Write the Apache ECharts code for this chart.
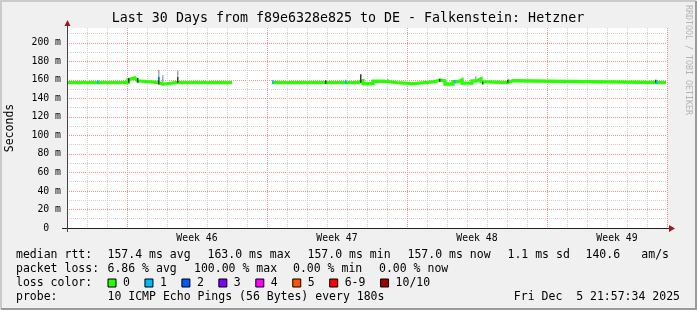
<!DOCTYPE html>
<html><head><meta charset="utf-8">
<script src="https://cdn.jsdelivr.net/npm/echarts@6/dist/echarts.min.js"></script>
<style>html,body{margin:0;padding:0;background:#f0f0f0}#c{width:697px;height:310px}</style>
</head><body><div id="c"></div>
<script>
// ---------- data ----------
const titleText = 'Last 30 Days from f89e6328e825 to DE - Falkenstein: Hetzner';
const yAxisName = 'Seconds';
const watermark = 'RRDTOOL / TOBI OETIKER';
const yMax = 216;                       // ms at top of plot
const weekLabels = ['Week 46', 'Week 47', 'Week 48', 'Week 49'];
const weekLabelDay = [6, 13, 20, 27];   // day slot whose centre carries the label
const weekStartDay = [3, 10, 17, 24];   // major (week) grid lines, in days from left edge

// median rtt (ms): each value holds from its day until the next day; last day = segment end
const seg1Days = [0, 3.05, 3.1, 3.4, 3.5, 3.55, 4.6, 4.8, 5.45, 5.55, 8.25];
const seg1Ms   = [157, 160, 162, 163, 159, 157, 155.5, 157, 158, 157, 157];
const seg2Days = [10.25, 14.55, 14.8, 15.3, 15.75, 16.05, 16.5, 17.3, 17.9, 18.4, 18.65,
  18.9, 19.3, 19.55, 19.75, 20.25, 20.5, 20.7, 20.8, 22.0, 22.3, 29.95];
const seg2Ms   = [157, 159, 156, 158.5, 158, 157, 156, 157, 158, 160, 159,
  155.5, 158, 160, 156.5, 159, 161, 158, 157, 159, 157, 157];

// samples with 1/10 packet loss (blue marks)
const lossDays = [1.5, 4.58, 10.25, 13.9, 19.35, 29.45];
const lossLo = [155.5, 159, 155.5, 155.5, 156, 155.5];
const lossHi = [159.5, 163, 159.5, 160, 160, 159.5];

// smoke (ping spread) - dark and light shades
const smokeDarkDays = [3.05, 3.5, 4.55, 5.5, 12.9, 14.65, 18.6, 20.75, 22.0, 29.4];
const smokeDarkLo = [157, 157, 155, 157, 155.5, 157, 158, 155, 157, 157];
const smokeDarkHi = [162, 162, 163, 163, 159.5, 166, 161, 158, 160, 160];
const smokeLightDays = [4.55, 4.75, 5.5, 14.75, 16.0, 20.4, 22.05];
const smokeLightLo = [163, 157, 163, 157, 157, 159, 158];
const smokeLightHi = [171, 165, 170, 161, 161, 164, 161];

// legend texts
const rttStats = ['157.4 ms avg', '163.0 ms max', '157.0 ms min', '157.0 ms now', '1.1 ms sd', '140.6', 'am/s'];
const lossStats = ['6.86 % avg', '100.00 % max', '0.00 % min', '0.00 % now'];
const lossNames = ['0', '1', '2', '3', '4', '5', '6-9', '10/10'];
const lossColors = ['#26ff00', '#00b8ff', '#0059ff', '#7e00ff', '#ff00ff', '#ff5500', '#ff0000', '#a10000'];
const probeText = '10 ICMP Echo Pings (56 Bytes) every 180s';
const stampText = 'Fri Dec  5 21:57:34 2025';

// ---------- layout ----------
const MONO = "'DejaVu Sans Mono', monospace";
const PL = 67, PT = 28, PW = 600, PH = 200;
const rttX = [107.5, 207.5, 307.5, 407.5, 507.5, 585.5, 641.3];
const lossX = [107.5, 194, 293, 379];
const rowY = [255, 269, 283, 297];
const GREY = '#d0d0d0', RED = '#f29090';

function stepPoints(days, ms) {
  const pts = [];
  for (let i = 0; i < days.length - 1; i++) { pts.push([days[i], ms[i]]); pts.push([days[i + 1], ms[i]]); }
  return pts;
}
const rangeData = (ds, lo, hi) => ds.map((d, i) => [d, lo[i], hi[i]]);
const dayCats = Array.from({length: 30}, (_, i) => String(i));
const weekCats = Array.from({length: 30}, (_, i) => {
  const k = weekLabelDay.indexOf(i); return k >= 0 ? weekLabels[k] : '';
});

function rectRender(params, api) {
  const x = api.value(0), lo = api.value(1), hi = api.value(2);
  const a = api.coord([x, hi]), b = api.coord([x, lo]);
  return {type: 'rect', shape: {x: a[0], y: a[1], width: 1.5, height: b[1] - a[1]},
    style: {fill: api.visual('color')}};
}
function rangeSeries(data, color, z) {
  return {type: 'custom', data: data, renderItem: rectRender, itemStyle: {color: color},
    encode: {x: 0, y: [1, 2]}, z: z, silent: true, animation: false};
}
function medianSeries(pts) {
  return {type: 'line', data: pts, showSymbol: false, z: 4, silent: true,
    lineStyle: {color: lossColors[0], width: 3.3, join: 'miter', cap: 'butt'}};
}

function t(x, y, s, o) {
  return Object.assign({type: 'text', x: x, y: y, silent: true,
    style: Object.assign({text: s, font: '11.5px ' + MONO, fill: '#000', textVerticalAlign: 'middle'}, o || {})});
}

const g = [];
g.push({type: 'polyline', shape: {points: [[1, 309], [1, 1], [696, 1]]}, style: {stroke: '#cbcbcb', lineWidth: 2, fill: null}, silent: true});
g.push({type: 'polyline', shape: {points: [[1, 309], [696, 309], [696, 1]]}, style: {stroke: '#9a9a9a', lineWidth: 2, fill: null}, silent: true});
g.push(t(348, 19, titleText, {font: '13.3px ' + MONO, textAlign: 'center'}));
g.push(t(10.5, PT + PH / 2, yAxisName, {textAlign: 'center'}));
g[g.length - 1].rotation = Math.PI / 2;
g.push(t(688, 60, watermark, {font: '8.3px ' + MONO, fill: '#b4b4b4', textAlign: 'center'}));
g[g.length - 1].rotation = -Math.PI / 2;
g.push({type: 'line', shape: {x1: 62, y1: 228.5, x2: 670, y2: 228.5}, style: {stroke: '#222', lineWidth: 1}, silent: true, z: 50});
g.push({type: 'line', shape: {x1: 67.5, y1: 232, x2: 67.5, y2: 24}, style: {stroke: '#444', lineWidth: 1}, silent: true, z: 50});
g.push({type: 'polygon', shape: {points: [[669, 225], [675, 228.5], [669, 232]]}, style: {fill: '#9b1b1b'}, silent: true, z: 51});
g.push({type: 'polygon', shape: {points: [[64.5, 26], [67.5, 20], [70.5, 26]]}, style: {fill: '#9b1b1b'}, silent: true, z: 51});
g.push(t(16, rowY[0], 'median rtt:'));
rttStats.forEach((s, i) => g.push(t(rttX[i], rowY[0], s)));
g.push(t(16, rowY[1], 'packet loss:'));
lossStats.forEach((s, i) => g.push(t(lossX[i], rowY[1], s)));
g.push(t(16, rowY[2], 'loss color:'));
let lx = 107.5;
lossNames.forEach((s, i) => {
  g.push({type: 'rect', shape: {x: lx + 0.5, y: rowY[2] - 4, width: 8, height: 8},
    style: {fill: lossColors[i], stroke: '#000', lineWidth: 1}, silent: true});
  g.push(t(lx + 15.5, rowY[2], s));
  lx += 9 + 6.5 + s.length * 6.95 + 14.5;
});
g.push(t(16, rowY[3], 'probe:'));
g.push(t(107.5, rowY[3], probeText));
g.push(t(680, rowY[3], stampText, {textAlign: 'right'}));

const off = {axisLine: {show: false}, axisTick: {show: false}, axisLabel: {show: false}};
const chart = echarts.init(document.getElementById('c'), null, {renderer: 'canvas'});
chart.setOption({
  backgroundColor: '#f0f0f0',
  animation: false,
  grid: [
    {left: PL, top: PT, width: PW, height: PH, show: true, backgroundColor: '#fff', borderWidth: 0},
    // helper grid whose bottom sits at the 10 ms level, for minor lines at 10, 30, 50 ...
    {left: PL, top: PT, width: PW, height: PH * (yMax - 10) / yMax, show: false}
  ],
  xAxis: [
    Object.assign({type: 'value', min: 0, max: 30, gridIndex: 0, splitLine: {show: false}}, off),
    Object.assign({type: 'category', data: dayCats, boundaryGap: true, gridIndex: 0, position: 'bottom',
      splitLine: {show: true, interval: (i) => i > 0 && i < 30 && weekStartDay.indexOf(i) < 0,
        lineStyle: {color: GREY, type: [1, 1], width: 1}}}, off),
    {type: 'category', data: weekCats, boundaryGap: true, gridIndex: 0, position: 'bottom',
      axisLine: {show: false}, axisTick: {show: false},
      axisLabel: {interval: 0, fontFamily: MONO, fontSize: 9.8, color: '#000', margin: 5},
      splitLine: {show: true, interval: (i) => weekStartDay.indexOf(i) >= 0,
        lineStyle: {color: RED, type: [1, 1], width: 1}}},
    Object.assign({type: 'value', min: 0, max: 30, gridIndex: 1, splitLine: {show: false}}, off)
  ],
  yAxis: [
    {type: 'value', min: 0, max: yMax, interval: 20, gridIndex: 0,
      axisLine: {show: false}, axisTick: {show: false},
      axisLabel: {fontFamily: MONO, fontSize: 9.8, color: '#000', margin: 6, showMaxLabel: false,
        formatter: v => v === 0 ? '0  ' : (v < yMax ? v + ' m' : '')},
      splitLine: {show: true, showMinLine: false, showMaxLine: false, lineStyle: {color: RED, type: [1, 1], width: 1}}},
    Object.assign({type: 'value', min: 10, max: yMax, interval: 20, gridIndex: 1,
      splitLine: {show: true, showMinLine: true, showMaxLine: false, lineStyle: {color: GREY, type: [1, 1], width: 1}}}, off)
  ],
  series: [
    rangeSeries(rangeData(smokeLightDays, smokeLightLo, smokeLightHi), '#a8a8a8', 3),
    medianSeries(stepPoints(seg1Days, seg1Ms)),
    medianSeries(stepPoints(seg2Days, seg2Ms)),
    rangeSeries(rangeData(smokeDarkDays, smokeDarkLo, smokeDarkHi), '#3a3a3a', 5),
    rangeSeries(rangeData(lossDays, lossLo, lossHi), lossColors[1], 6)
  ],
  graphic: g
});
</script></body></html>
